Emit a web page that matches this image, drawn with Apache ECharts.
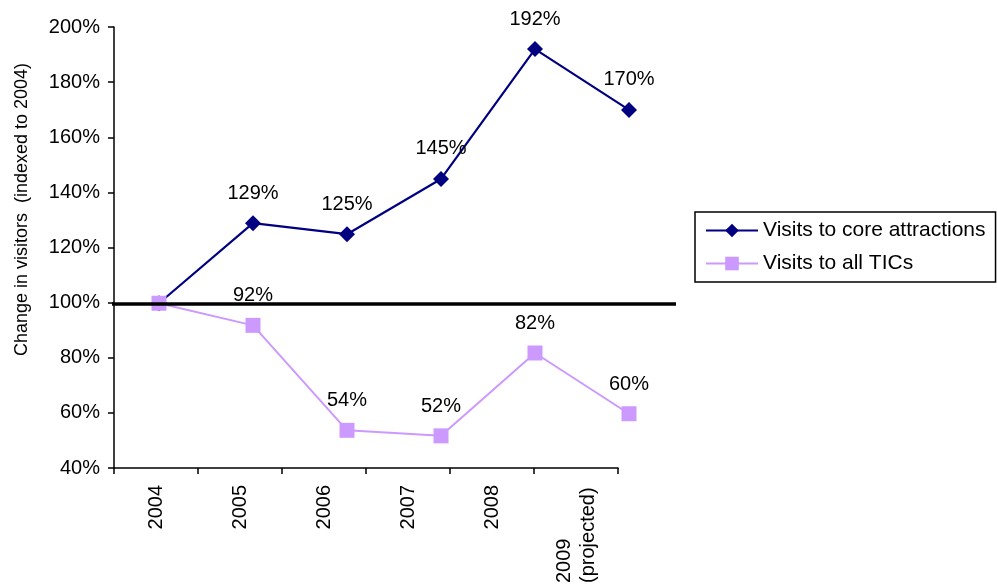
<!DOCTYPE html>
<html>
<head>
<meta charset="utf-8">
<script src="https://cdn.jsdelivr.net/npm/echarts@6/dist/echarts.min.js"></script>
<style>
  html, body { margin: 0; padding: 0; background: #fff; }
  #chart { width: 997px; height: 586px; }
</style>
</head>
<body>
<div id="chart"></div>
<script>
// chart data
const years = ['2004', '2005', '2006', '2007', '2008', '2009\n(projected)'];
const coreVisits = [100, 129, 125, 145, 192, 170];
const ticVisits = [100, 92, 54, 52, 82, 60];
const yTicks = { min: 40, max: 200, interval: 20 };
const baseline = 100;

const font = 'Liberation Sans, Arial, sans-serif';

function pctLabel(p) {
    // no label on the 2004 base point
    return p.dataIndex === 0 ? '' : p.value + '%';
}

function yearLabel(value) {
    if (value.indexOf('\n') > -1) {
        const parts = value.split('\n');
        return '{l|' + parts[0] + '}\n{l|' + parts[1] + '}';
    }
    return value;
}

const chart = echarts.init(document.getElementById('chart'));
chart.setOption({
    animation: false,
    textStyle: { fontFamily: font, color: '#000' },
    grid: [
        { left: 114, top: 27, width: 504, height: 442 },
        { left: 112, top: 27, width: 564, height: 442 }
    ],
    legend: {
        orient: 'vertical',
        left: 695,
        top: 212,
        padding: [8, 10, 8, 10],
        itemWidth: 52,
        itemHeight: 17,
        itemGap: 12,
        borderColor: '#000',
        borderWidth: 1.5,
        textStyle: { fontSize: 21, fontFamily: font, color: '#000' },
        data: ['Visits to core attractions', 'Visits to all TICs']
    },
    xAxis: [{
        type: 'category',
        gridIndex: 0,
        data: years,
        boundaryGap: true,
        axisLine: { lineStyle: { color: '#000', width: 1.5 } },
        axisTick: { show: true, length: 6, lineStyle: { color: '#000', width: 1.5 } },
        axisLabel: {
            rotate: 90,
            margin: 17,
            fontSize: 20,
            color: '#000',
            fontFamily: font,
            interval: 0,
            formatter: yearLabel,
            rich: { l: { width: 98, align: 'left', fontSize: 20, fontFamily: font, color: '#000', lineHeight: 24 } }
        }
    }, {
        type: 'category',
        gridIndex: 1,
        data: years,
        boundaryGap: true,
        show: false
    }],
    yAxis: [{
        type: 'value',
        gridIndex: 0,
        min: yTicks.min,
        max: yTicks.max,
        interval: yTicks.interval,
        name: 'Change in visitors  (indexed to 2004)',
        nameLocation: 'middle',
        nameGap: 83,
        nameTextStyle: { fontSize: 18, fontFamily: font, color: '#000', padding: [0, 0, 0, 76] },
        splitLine: { show: false },
        axisLine: { show: true, lineStyle: { color: '#000', width: 1.5 } },
        axisTick: { show: true, length: 6, lineStyle: { color: '#000', width: 1.5 } },
        axisLabel: { formatter: '{value}%', fontSize: 20, color: '#000', fontFamily: font, margin: 14 }
    }, {
        type: 'value',
        gridIndex: 1,
        min: yTicks.min,
        max: yTicks.max,
        interval: yTicks.interval,
        show: false,
        splitLine: { show: false }
    }],
    series: [{
        type: 'line',
        xAxisIndex: 1,
        yAxisIndex: 1,
        data: [],
        z: 1,
        silent: true,
        markLine: {
            symbol: 'none',
            silent: true,
            label: { show: false },
            lineStyle: { color: '#000', width: 3.5, type: 'solid' },
            data: [{ yAxis: baseline }]
        }
    }, {
        name: 'Visits to core attractions',
        type: 'line',
        xAxisIndex: 1,
        yAxisIndex: 1,
        data: coreVisits,
        z: 3,
        symbol: 'diamond',
        symbolSize: 16,
        color: '#000080',
        lineStyle: { color: '#000080', width: 2.2 },
        itemStyle: { color: '#000080' },
        label: { show: true, position: 'top', distance: 12, formatter: pctLabel, fontSize: 20, color: '#000', fontFamily: font }
    }, {
        name: 'Visits to all TICs',
        type: 'line',
        xAxisIndex: 1,
        yAxisIndex: 1,
        data: ticVisits,
        z: 4,
        symbol: 'rect',
        symbolSize: 15,
        color: '#CC99FF',
        lineStyle: { color: '#CC99FF', width: 2 },
        itemStyle: { color: '#CC99FF' },
        label: { show: true, position: 'top', distance: 12, formatter: pctLabel, fontSize: 20, color: '#000', fontFamily: font }
    }]
});
</script>
</body>
</html>
